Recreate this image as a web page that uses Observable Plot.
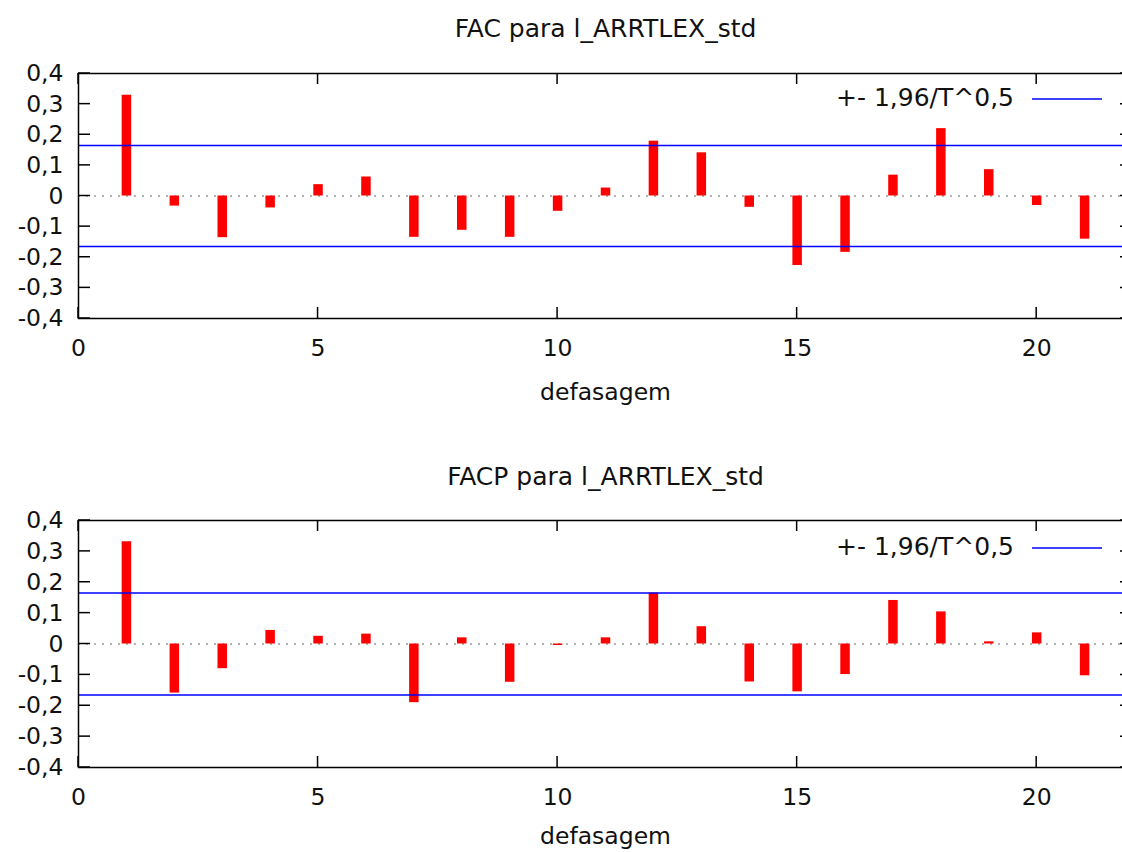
<!DOCTYPE html>
<html><head><meta charset="utf-8">
<script src="https://cdn.jsdelivr.net/npm/d3@7"></script>
<script src="https://cdn.jsdelivr.net/npm/@observablehq/plot@0.6"></script>
<style>
html,body{margin:0;padding:0;background:#fff;overflow:hidden;}
#chart{position:relative;width:1122px;height:852px;overflow:hidden;}
#chart svg{display:block;max-width:none !important;height:auto;}
</style></head><body><div id="chart"></div>
<script>
const lags = [1,2,3,4,5,6,7,8,9,10,11,12,13,14,15,16,17,18,19,20,21];
const facValues = [0.329,-0.033,-0.136,-0.039,0.037,0.062,-0.135,-0.112,-0.135,-0.050,0.026,0.179,0.141,-0.037,-0.227,-0.184,0.068,0.220,0.086,-0.031,-0.141];
const facpValues = [0.331,-0.159,-0.080,0.044,0.025,0.032,-0.190,0.020,-0.124,-0.005,0.020,0.165,0.056,-0.123,-0.155,-0.099,0.141,0.104,0.007,0.036,-0.103];
const confBand = 0.165;
const yTicks = [-0.4,-0.3,-0.2,-0.1,0,0.1,0.2,0.3,0.4];
const xTicks = [0,5,10,15,20];
const xDomain = [0,22];
const yDomain = [-0.4,0.4];
const legendLabel = "+- 1,96/T^0,5";
const titleFAC = "FAC para l_ARRTLEX_std";
const titleFACP = "FACP para l_ARRTLEX_std";
const xLabel = "defasagem";

const fmt = d => d === 0 ? "0" : d.toFixed(1).replace(".", ",");

// inward-pointing ticks on all four sides (gnuplot style), placed with Plot's scales
function inwardTicks(index, scales, values, dims) {
  const g = d3.create("svg:g").attr("stroke", "black").attr("stroke-width", 1.5);
  const left = dims.marginLeft, right = dims.width - dims.marginRight;
  const top = dims.marginTop, bottom = dims.height - dims.marginBottom;
  for (const t of yTicks) {
    const y = scales.y(t);
    g.append("line").attr("x1", left).attr("x2", left + 12).attr("y1", y).attr("y2", y);
    g.append("line").attr("x1", right).attr("x2", right - 12).attr("y1", y).attr("y2", y);
  }
  for (const t of xTicks) {
    const x = scales.x(t);
    g.append("line").attr("x1", x).attr("x2", x).attr("y1", bottom).attr("y2", bottom - 11);
    g.append("line").attr("x1", x).attr("x2", x).attr("y1", top).attr("y2", top + 11);
  }
  return g.node();
}

function legendMark(offset) {
  return (index, scales, values, dims) => {
    const g = d3.create("svg:g");
    const right = dims.width - dims.marginRight;
    const y = dims.marginTop + offset;
    g.append("text").attr("x", right - 118).attr("y", y - 1.5).attr("dy", "0.35em")
      .attr("text-anchor", "end").attr("fill", "currentColor").attr("font-size", 25).text(legendLabel);
    g.append("line").attr("x1", right - 100).attr("x2", right - 30)
      .attr("y1", y).attr("y2", y).attr("stroke", "blue").attr("stroke-width", 1.5);
    return g.node();
  };
}

function panel(title, values, height, marginBottom, titleDy, legendOffset, labelDy) {
  const data = lags.map((lag, i) => ({lag, value: values[i]}));
  return Plot.plot({
    width: 1140, height, marginTop: 73, marginBottom, marginLeft: 78, marginRight: 8,
    style: {fontFamily: "'DejaVu Sans', Verdana, sans-serif", fontSize: "23.5px", color: "#111", background: "#fff", maxWidth: "none"},
    x: {domain: xDomain, ticks: xTicks},
    y: {domain: yDomain, ticks: yTicks},
    marks: [
      Plot.ruleY([0], {stroke: "#999", strokeDasharray: "2,6", strokeWidth: 1.5}),
      Plot.ruleX(data, {x: "lag", y1: 0, y2: "value", stroke: "red", strokeWidth: 9.5}),
      Plot.ruleY([-confBand, confBand], {stroke: "blue", strokeWidth: 1.5}),
      Plot.frame({stroke: "black", strokeWidth: 1.5}),
      Plot.axisX({ticks: xTicks, anchor: "bottom", tickSize: 0, tickPadding: 21, tickFormat: d => String(d), label: null}),
      Plot.axisY({ticks: yTicks, anchor: "left", tickSize: 0, tickPadding: 15, tickFormat: fmt, label: null}),
      inwardTicks,
      Plot.text([title], {frameAnchor: "top", lineAnchor: "middle", dy: titleDy, fill: "currentColor", fontSize: 25}),
      Plot.text([xLabel], {frameAnchor: "bottom", lineAnchor: "middle", dy: labelDy, fill: "currentColor"}),
      legendMark(legendOffset)
    ]
  });
}

const chart = document.getElementById("chart");
chart.append(panel(titleFAC, facValues, 447, 129, -45, 26, 74));
chart.append(panel(titleFACP, facpValues, 405, 85, -44, 28, 69));
</script>
</body></html>
